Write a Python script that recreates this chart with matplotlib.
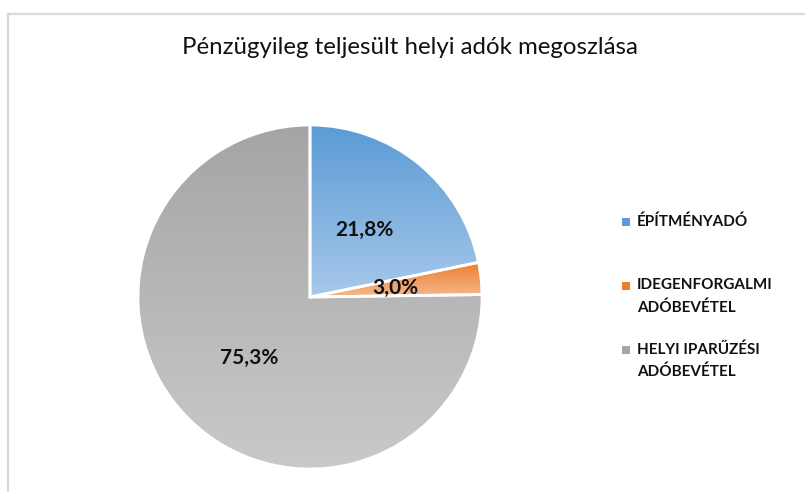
import matplotlib.pyplot as plt
import numpy as np
from matplotlib.colors import LinearSegmentedColormap
from matplotlib.patches import Rectangle
from matplotlib.lines import Line2D

# data
categories = ['ÉPÍTMÉNYADÓ', 'IDEGENFORGALMI\nADÓBEVÉTEL', 'HELYI IPARŰZÉSI\nADÓBEVÉTEL']
shares = [21.8, 3.0, 75.3]
labels = ['21,8%', '3,0%', '75,3%']

# gradient colours (top -> bottom) for each slice
grad_top = ['#5b9bd5', '#ed7d31', '#a5a5a5']
grad_bottom = ['#a7c8ea', '#f5b88c', '#c9c9c9']
legend_colors = ['#5b9bd5', '#ed7d31', '#a5a5a5']

plt.rcParams['font.family'] = ['Lato', 'DejaVu Sans']

fig = plt.figure(figsize=(8.05, 4.92), dpi=100)
W, H = 805, 492

# pie axes: centre (310, 297) px, radius 172 px
cx, cy, r = 310, 297, 172
ax = fig.add_axes([(cx - r) / W, (H - cy - r) / H, 2 * r / W, 2 * r / H])
ax.set_xlim(-1, 1)
ax.set_ylim(-1, 1)
ax.axis('off')

wedges, _ = ax.pie(shares, startangle=90, counterclock=False, radius=1,
                   wedgeprops=dict(edgecolor='none'))

for w, c0, c1 in zip(wedges, grad_top, grad_bottom):
    w.set_facecolor('none')
    x0, y0, x1, y1 = w.get_window_extent().transformed(ax.transData.inverted()).extents
    cmap = LinearSegmentedColormap.from_list('g', [c0, c1])
    grad = np.linspace(0, 1, 256).reshape(-1, 1)
    im = ax.imshow(grad, cmap=cmap, extent=[x0, x1, y0, y1], aspect='auto',
                   origin='upper', interpolation='bilinear', zorder=1)
    im.set_clip_path(w)

# white separators on top
ax.pie(shares, startangle=90, counterclock=False, radius=1,
       wedgeprops=dict(facecolor='none', edgecolor='white', linewidth=2))
ax.set_xlim(-1, 1)
ax.set_ylim(-1, 1)

# percentage labels at the middle of each slice
for w, lab in zip(wedges, labels):
    ang = np.deg2rad((w.theta1 + w.theta2) / 2)
    ax.text(0.5 * np.cos(ang), 0.5 * np.sin(ang), lab, ha='center', va='center',
            fontsize=15, fontweight='bold', color='#111111', zorder=5)

# title
fig.text(410 / W, 1 - 48 / H, 'Pénzügyileg teljesült helyi adók megoszlása',
         ha='center', va='center', fontsize=17.3, color='#111111')

# legend
leg_y = [222, 286, 350]
for name, col, y in zip(categories, legend_colors, leg_y):
    fig.add_artist(Rectangle((622 / W, 1 - (y + 4) / H), 8 / W, 8 / H,
                             transform=fig.transFigure, facecolor=col, edgecolor='none'))
    fig.text(637 / W, 1 - (y - 8) / H, name, ha='left', va='top', fontsize=11,
             fontweight='bold', color='#111111', linespacing=1.7)

# chart border (left and top edge visible)
fig.add_artist(Line2D([7.5 / W, 7.5 / W], [0, 1 - 13.5 / H], transform=fig.transFigure,
                      color='#d9d9d9', linewidth=1.6))
fig.add_artist(Line2D([7.5 / W, 1], [1 - 13.5 / H, 1 - 13.5 / H], transform=fig.transFigure,
                      color='#d9d9d9', linewidth=1.6))

fig.savefig('out.png', dpi=100, facecolor='white')
